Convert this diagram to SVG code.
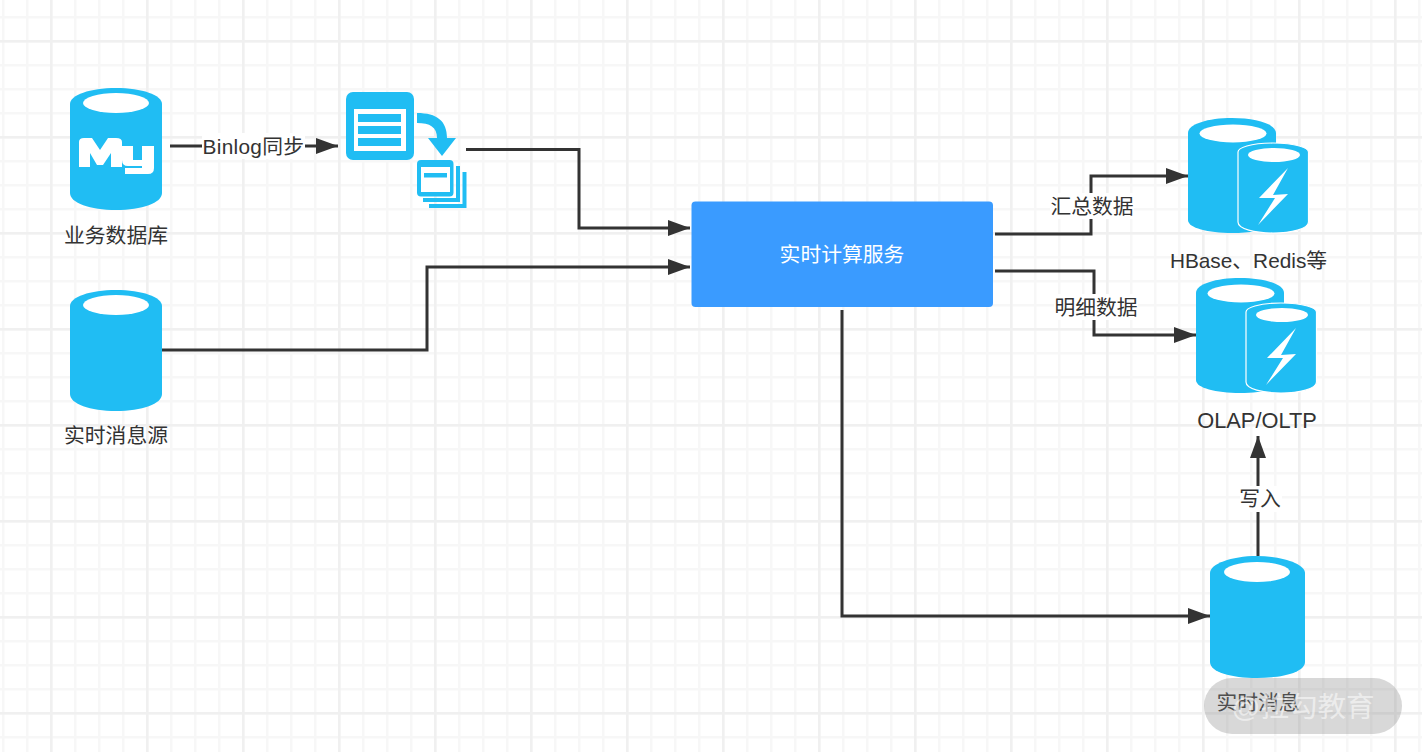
<svg xmlns="http://www.w3.org/2000/svg" width="1422" height="752" viewBox="0 0 1422 752">
<defs>
<pattern id="minor" x="2" y="16" width="24" height="24" patternUnits="userSpaceOnUse"><path d="M0 0H2.500V24H0ZM0 0H24V2.500H0Z" fill="#f7f7f7"/></pattern>
<pattern id="major" x="50" y="40" width="96" height="96" patternUnits="userSpaceOnUse"><path d="M0 0H2.500V96H0ZM0 0H96V2.500H0Z" fill="#f0f0f0"/></pattern>
<marker id="arr" markerUnits="userSpaceOnUse" markerWidth="22" markerHeight="16" refX="22" refY="8" orient="auto"><path d="M0 0L22 8L0 16Z" fill="#333"/></marker>
<g id="bolt-db">
<path d="M0 15C0 6 20 0 44 0S88 6 88 15V102C88 110 68 115 44 115S0 110 0 102Z" fill="#20bdf3"/>
<ellipse cx="45" cy="15.500" rx="33.500" ry="9" fill="#fff"/>
<path d="M50 34C50 30 62 25 85 25S120.500 30 120.500 34V104C120.500 111 103 115 85 115S50 111 50 104Z" fill="#20bdf3" stroke="#fff" stroke-width="1.200"/>
<ellipse cx="86" cy="37" rx="26" ry="7" fill="#fff"/>
<path d="M100 50L71 80L87 80L70 107L100 76L85 77Z" fill="#fff"/>
</g>
</defs>
<style>
text{font-family:"Liberation Sans","Noto Sans CJK SC",sans-serif;font-size:20.800px;fill:#333;text-anchor:middle}
.db{fill:#20bdf3}.hole{fill:#fff}
.c{fill:none;stroke:#333;stroke-width:3;marker-end:url(#arr)}
.lb{fill:#fff}
</style>
<rect width="1422" height="752" fill="#fff"/>
<rect width="1422" height="752" fill="url(#minor)"/>
<rect width="1422" height="752" fill="url(#major)"/>
<g id="connectors">
<path class="c" d="M170 146H338"/>
<path class="c" d="M466 149.500H579V228H690"/>
<path class="c" d="M162 350H427V267H690"/>
<path class="c" d="M995 234H1091V176H1188"/>
<path class="c" d="M995 271H1094V335H1196"/>
<path class="c" d="M842 310V616H1210"/>
<path class="c" d="M1258 556V436"/>
<rect class="lb" x="202" y="133" width="103" height="26"/>
<text x="253.500" y="154" style="letter-spacing:.3px">Binlog同步</text>
<rect class="lb" x="1050" y="193" width="84" height="26"/>
<text x="1092" y="214">汇总数据</text>
<rect class="lb" x="1054" y="294" width="84" height="26"/>
<text x="1096" y="315">明细数据</text>
<rect class="lb" x="1240" y="486" width="42" height="26"/>
<text x="1260" y="506">写入</text>
</g>
<g id="mysql">
<path class="db" d="M70 104C70 95 90 88 116 88S162 95 162 104V193C162 203 142 210 116 210S70 203 70 193Z"/>
<ellipse class="hole" cx="116" cy="103" rx="33" ry="10"/>
<path class="hole" d="M79 167V142Q79 138 84 138H92L100 150L108 138H116Q122 138 122 142V167H111V153L103 165H97L90 153V167Z"/>
<path class="hole" d="M122 146H133V160H142V146H154V168Q154 174 148 174H125V168H142V166H128Q122 166 122 160Z"/>
<text x="116" y="243">业务数据库</text>
</g>
<g id="binlog">
<rect class="db" x="346" y="92" width="68" height="68" rx="7"/>
<rect class="hole" x="354" y="109" width="52" height="42"/>
<path class="db" d="M358 114H401V122H358ZM358 126H401V134H358ZM358 138H401V146H358Z"/>
<path class="db" d="M417 113C437 113 447 121 447 138H456L442 156L428 138H437C437 127 430 123 417 123Z"/>
<path class="db" d="M456 166H460V202H423V198H456Z"/>
<path class="db" d="M462.500 172H466.500V208H429V204H462.500Z"/>
<rect class="db" x="417" y="160" width="36.500" height="36.500" rx="4"/>
<rect class="hole" x="421" y="167" width="29" height="25"/>
<rect class="db" x="424" y="173" width="23" height="4.500"/>
</g>
<g id="source">
<path class="db" d="M70 306C70 297 90 290 116 290S162 297 162 306V394C162 404 142 411 116 411S70 404 70 394Z"/>
<ellipse class="hole" cx="116" cy="305" rx="33" ry="10"/>
<text x="116" y="443">实时消息源</text>
</g>
<g id="compute">
<rect x="691.500" y="201.500" width="301.500" height="105.500" rx="4" fill="#3a9bff"/>
<text x="842" y="262" style="fill:#fff">实时计算服务</text>
</g>
<g id="hbase">
<use href="#bolt-db" x="1188" y="118"/>
<text x="1248.500" y="268">HBase、Redis等</text>
</g>
<g id="olap">
<use href="#bolt-db" x="1196" y="278"/>
<text x="1257" y="428" style="font-size:21.800px">OLAP/OLTP</text>
</g>
<g id="msg">
<path class="db" d="M1210 573C1210 564 1231 556 1257 556S1305 564 1305 573V662C1305 672 1283 678 1257 678S1210 672 1210 662Z"/>
<ellipse class="hole" cx="1257" cy="572" rx="33" ry="10"/>
<text x="1258" y="710">实时消息</text>
</g>
<g id="watermark">
<rect x="1204" y="678" width="198" height="56" rx="28" fill="#888" fill-opacity=".33"/>
<text x="1303" y="717" style="fill:#fff;fill-opacity:.55;font-size:28.500px">@拉勾教育</text>
</g>
</svg>
